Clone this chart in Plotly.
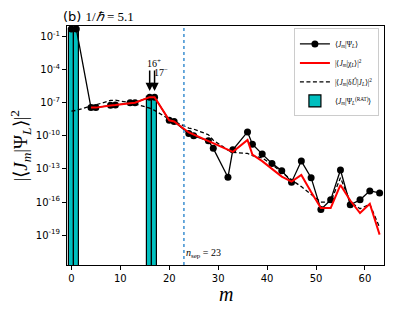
import plotly.graph_objects as go

# ---- data (stored as log10 exponents) ----
m_psi = [0, 1, 4, 5, 8, 9, 12, 13, 16, 17, 20, 21, 24, 25, 28, 29, 32, 33, 36, 37,
         39, 41, 43, 45, 47, 49, 51, 53, 55, 57, 59, 61, 63]
psi_log10 = [-0.33, -0.33, -7.45, -7.45, -7.24, -7.22, -7.02, -7.0, -6.5, -6.5,
             -8.6, -8.7, -9.8, -10.0, -10.46, -11.14, -13.76, -11.27, -9.65, -10.76,
             -11.66, -12.5, -13.16, -14.2, -12.29, -13.79, -16.68, -15.8, -13.1,
             -16.25, -15.8, -14.99, -15.17]

m_chi = [4, 5, 8, 9, 12, 13, 16, 17, 20, 21, 24, 25, 28, 29, 32, 33, 36, 37,
         39, 41, 43, 45, 47, 49, 51, 53, 55, 57, 59, 61, 63]
chi_log10 = [-7.45, -7.45, -7.25, -7.22, -7.05, -7.0, -6.5, -6.5, -8.6, -8.7,
             -9.7, -9.9, -10.5, -10.7, -11.3, -11.45, -10.37, -11.7,
             -12.3, -13.0, -13.7, -14.15, -13.55, -15.1, -16.55, -16.55, -14.45,
             -15.86, -17.0, -16.16, -18.95]

m_du = [0, 1, 4, 5, 8, 9, 12, 13, 16, 17, 20, 21, 24, 25, 28, 29, 32, 33, 36, 37,
        39, 41, 43, 45, 47, 49, 51, 53, 55, 57, 59, 61, 63]
du_log10 = [-7.76, -7.7, -7.3, -7.2, -6.8, -6.78, -7.0, -7.1, -7.5, -7.7,
            -8.5, -8.7, -9.3, -9.4, -9.9, -10.4, -11.3, -11.5, -11.6, -11.8,
            -12.0, -12.6, -13.3, -14.0, -14.6, -15.3, -16.0, -16.0, -13.8,
            -16.0, -16.6, -16.2, -18.3]

m_rat = [0, 1, 16, 17]
rat_log10 = [-0.33, -0.33, -6.5, -6.5]

n_sep = 23
ytick_exp = [-1, -4, -7, -10, -13, -16, -19]
xtick_vals = [0, 10, 20, 30, 40, 50, 60]

psi = [10 ** v for v in psi_log10]
chi = [10 ** v for v in chi_log10]
du = [10 ** v for v in du_log10]
rat = [10 ** v for v in rat_log10]

SERIF = "Liberation Serif"
SANS = "DejaVu Sans"

fig = go.Figure()

fig.add_trace(go.Bar(
    x=m_rat, y=rat, width=0.95,
    marker=dict(color="#00bfbf", line=dict(color="black", width=1.2)),
    name="⟨<i>J<sub>m</sub></i>|Ψ<sub><i>L</i></sub><sup>(RAT)</sup>⟩",
    legendrank=4,
))
fig.add_trace(go.Scatter(
    x=m_du, y=du, mode="lines",
    line=dict(color="black", width=1.3, dash="4px,2.5px"),
    name="|⟨<i>J<sub>m</sub></i>|δ<i>Û</i>|<i>J<sub>L</sub></i>⟩|<sup>2</sup>",
    legendrank=3,
))
fig.add_trace(go.Scatter(
    x=m_psi, y=psi, mode="lines+markers",
    line=dict(color="black", width=1.3),
    marker=dict(color="black", size=7),
    name="⟨<i>J<sub>m</sub></i>|Ψ<sub><i>L</i></sub>⟩",
    legendrank=1,
))
fig.add_trace(go.Scatter(
    x=m_chi, y=chi, mode="lines",
    line=dict(color="red", width=2),
    name="|⟨<i>J<sub>m</sub></i>|χ<sub><i>L</i></sub>⟩|<sup>2</sup>",
    legendrank=2,
))

# vertical dotted line at n_sep
fig.add_shape(type="line", x0=n_sep, x1=n_sep, y0=0, y1=1, xref="x", yref="paper",
              line=dict(color="#3d8fd1", width=1.5, dash="dot"))

anns = []
# arrows at 16 and 17
for mx in (16, 17):
    anns.append(dict(x=mx, y=-5.95, xref="x", yref="y", ax=0, ay=-22, text="",
                     showarrow=True, arrowhead=2, arrowsize=1.1, arrowwidth=1.5,
                     arrowcolor="black"))
anns.append(dict(x=16.8, y=-3.4, xref="x", yref="y", text="16<sup>+</sup>",
                 showarrow=False, font=dict(family=SERIF, size=10, color="black")))
anns.append(dict(x=18.3, y=-4.24, xref="x", yref="y", text="17<sup>−</sup>",
                 showarrow=False, font=dict(family=SERIF, size=10, color="black")))
anns.append(dict(x=n_sep, y=-20.67, xref="x", yref="y", xanchor="left",
                 text="<i>n</i><sub>sep</sub> = 23", showarrow=False,
                 font=dict(family=SERIF, size=10, color="black")))
anns.append(dict(x=-0.019, y=1.039, xref="paper", yref="paper", xanchor="left",
                 yanchor="middle",
                 text="(b) <span style='font-family:Liberation Serif'>1/<i>ℏ</i> = 5.1</span>",
                 showarrow=False, font=dict(family=SANS, size=13, color="black")))
# axis titles as annotations (so the plot area keeps its place)
anns.append(dict(x=-0.148, y=0.5, xref="paper", yref="paper", textangle=-90,
                 xanchor="center", yanchor="middle", showarrow=False,
                 text="|⟨<i>J<sub>m</sub></i>|Ψ<sub><i>L</i></sub>⟩|<sup>2</sup>",
                 font=dict(family=SERIF, size=19, color="black")))
anns.append(dict(x=0.5, y=-0.122, xref="paper", yref="paper",
                 xanchor="center", yanchor="middle", showarrow=False,
                 text="<i>m</i>", font=dict(family=SERIF, size=20, color="black")))

# the page adds an 8 px body margin, so the figure is 8 px smaller and shifted
fig.update_layout(
    width=407, height=303,
    margin=dict(l=59, r=31, t=18, b=46),
    plot_bgcolor="white", paper_bgcolor="white",
    showlegend=True,
    legend=dict(x=0.984, y=0.99, xanchor="right", yanchor="top",
                bgcolor="rgba(255,255,255,0.9)", bordercolor="#cccccc", borderwidth=1,
                font=dict(family=SERIF, size=7.5, color="black"),
                tracegroupgap=0, itemwidth=30),
    annotations=anns,
    bargap=0,
)
fig.update_xaxes(
    range=[-0.9, 63.9], tickvals=xtick_vals, ticks="outside", ticklen=4,
    tickcolor="black", showline=True, linecolor="black", linewidth=1, mirror=True,
    showgrid=False, zeroline=False, automargin=False,
    tickfont=dict(family=SANS, size=10, color="black"),
)
fig.update_yaxes(
    type="log", range=[-21.7, -0.06],
    tickvals=[10 ** e for e in ytick_exp],
    ticktext=["10<sup>%d</sup>" % e for e in ytick_exp],
    ticks="outside", ticklen=4, tickcolor="black",
    showline=True, linecolor="black", linewidth=1, mirror=True,
    showgrid=False, zeroline=False, automargin=False,
    tickfont=dict(family=SANS, size=10, color="black"),
)

fig.write_html("out.html")
